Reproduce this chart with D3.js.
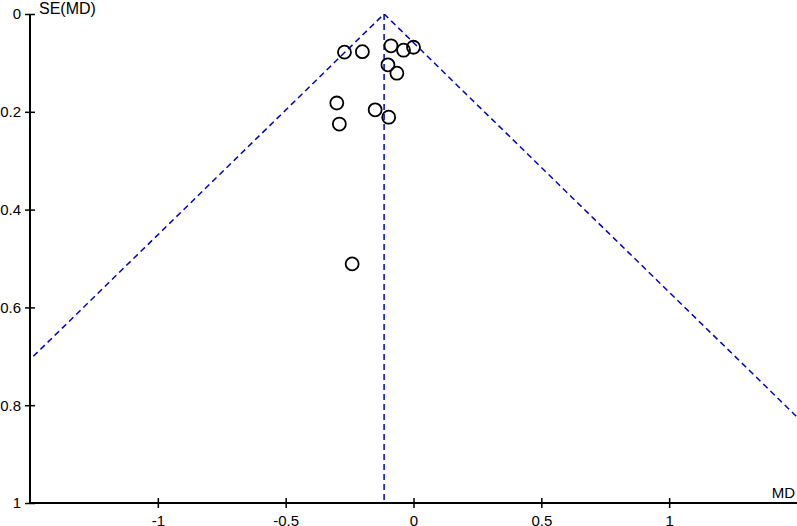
<!DOCTYPE html>
<html>
<head>
<meta charset="utf-8">
<script src="https://cdn.jsdelivr.net/npm/d3@7"></script>
<style>
  body { margin: 0; background: #fff; }
  svg { display: block; font-family: "Liberation Sans", Arial, sans-serif; }
</style>
</head>
<body>
<div id="chart"></div>
<script>
// study estimates
var md = [-0.27, -0.20, -0.088, -0.039, 0.00, -0.10, -0.065, -0.30, -0.29, -0.15, -0.097, -0.24];
var se = [0.078, 0.077, 0.065, 0.074, 0.068, 0.104, 0.121, 0.182, 0.225, 0.196, 0.211, 0.511];
var pooledMD = -0.115;
var xTicks = [-1, -0.5, 0, 0.5, 1];
var yTicks = [0, 0.2, 0.4, 0.6, 0.8, 1];

var width = 797, height = 526;

var svg = d3.select("#chart").append("svg")
    .attr("width", width)
    .attr("height", height);

var x = d3.scaleLinear().domain([-1.5, 1.5]).range([30, 797]);
var y = d3.scaleLinear().domain([0, 1]).range([14, 503]);

svg.append("defs").append("clipPath").attr("id", "plotclip")
  .append("rect")
    .attr("x", x(-1.5)).attr("y", y(0))
    .attr("width", x(1.5) - x(-1.5)).attr("height", y(1) - y(0));

var plot = svg.append("g").attr("clip-path", "url(#plotclip)");

// funnel: pooled estimate +/- 1.96 SE
var funnel = [
  [[pooledMD - 1.96, 1], [pooledMD, 0], [pooledMD + 1.96, 1]]
];
var line = d3.line().x(function(d) { return x(d[0]); }).y(function(d) { return y(d[1]); });

plot.selectAll(".funnel").data(funnel).enter()
  .append("path")
    .attr("class", "funnel")
    .attr("d", line)
    .attr("fill", "none")
    .attr("stroke", "#0000cc")
    .attr("stroke-width", 1.5)
    .attr("stroke-dasharray", "6,4");

plot.append("line")
    .attr("x1", x(pooledMD)).attr("x2", x(pooledMD))
    .attr("y1", y(0)).attr("y2", y(1))
    .attr("stroke", "#0000cc")
    .attr("stroke-width", 1.5)
    .attr("stroke-dasharray", "6,4");

// study points
var pts = md.map(function(m, i) { return { md: m, se: se[i] }; });
svg.selectAll(".pt").data(pts).enter()
  .append("circle")
    .attr("class", "pt")
    .attr("cx", function(d) { return x(d.md); })
    .attr("cy", function(d) { return y(d.se); })
    .attr("r", 6.5)
    .attr("fill", "none")
    .attr("stroke", "#000")
    .attr("stroke-width", 1.8);

// axes
var xAxis = d3.axisBottom(x).tickValues(xTicks).tickSize(0).tickPadding(12)
    .tickFormat(function(d) { return d; });
var gx = svg.append("g")
    .attr("transform", "translate(0," + y(1) + ")")
    .call(xAxis);
gx.select(".domain").remove();
gx.selectAll(".tick").append("line").attr("y1", -5).attr("y2", 5).attr("stroke", "#000").attr("stroke-width", 1.5);
gx.append("line").attr("x1", x(-1.5)).attr("x2", width).attr("stroke", "#000").attr("stroke-width", 2);

var yAxis = d3.axisLeft(y).tickValues(yTicks).tickSize(0).tickPadding(9)
    .tickFormat(function(d) { return d; });
var gy = svg.append("g")
    .attr("transform", "translate(" + x(-1.5) + ",0)")
    .call(yAxis);
gy.select(".domain").remove();
gy.selectAll(".tick").append("line").attr("x1", -5).attr("x2", 5).attr("stroke", "#000").attr("stroke-width", 1.5);
gy.append("line").attr("y1", y(0)).attr("y2", y(1)).attr("stroke", "#000").attr("stroke-width", 2);

svg.selectAll(".tick text")
    .attr("fill", "#000")
    .style("font-size", "15px")
    .style("font-family", "'Liberation Sans', Arial, sans-serif");

svg.append("text")
    .attr("x", 39).attr("y", 14)
    .style("font-size", "16px")
    .text("SE(MD)");

svg.append("text")
    .attr("x", 795).attr("y", 498)
    .attr("text-anchor", "end")
    .style("font-size", "15px")
    .text("MD");
</script>
</body>
</html>
